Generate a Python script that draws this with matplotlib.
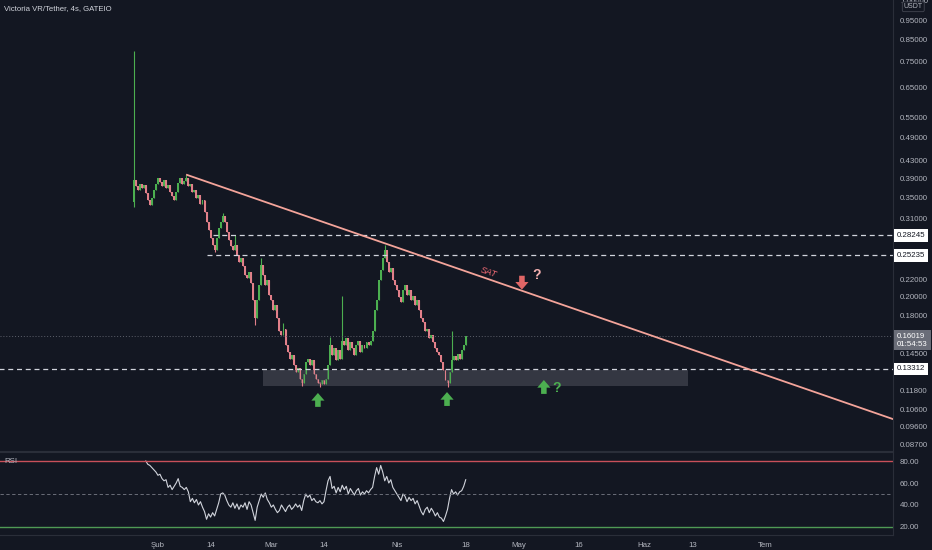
#Victoria VR/Tether 4s chart, dark TradingView-like style with RSI pane
import matplotlib
matplotlib.use('Agg')
import matplotlib.pyplot as plt
import matplotlib.dates as mdates
from matplotlib.ticker import FixedLocator, NullLocator
from datetime import datetime, timedelta

plt.rcParams['font.family'] = ['Liberation Sans', 'DejaVu Sans']

#price data (12h steps), open = previous close
first_open = 0.340
closes = [0.386, 0.373, 0.365, 0.377, 0.369, 0.375, 0.359, 0.345, 0.335, 0.348,
          0.365, 0.377, 0.390, 0.382, 0.373, 0.386, 0.369, 0.375, 0.361, 0.352,
          0.345, 0.361, 0.379, 0.390, 0.377, 0.384, 0.390, 0.373, 0.377, 0.361,
          0.365, 0.348, 0.354, 0.337, 0.345, 0.322, 0.304, 0.291, 0.278, 0.267,
          0.260, 0.278, 0.294, 0.304, 0.315, 0.304, 0.288, 0.275, 0.266, 0.260,
          0.267, 0.253, 0.243, 0.249, 0.238, 0.226, 0.222, 0.230, 0.216, 0.196,
          0.177, 0.196, 0.213, 0.239, 0.226, 0.213, 0.220, 0.202, 0.196, 0.185,
          0.191, 0.177, 0.165, 0.161, 0.167, 0.152, 0.146, 0.141, 0.144, 0.136,
          0.131, 0.134, 0.126, 0.123, 0.129, 0.138, 0.141, 0.136, 0.140, 0.129,
          0.126, 0.123, 0.122, 0.125, 0.122, 0.126, 0.136, 0.152, 0.144, 0.150,
          0.140, 0.148, 0.141, 0.156, 0.152, 0.158, 0.148, 0.155, 0.150, 0.144,
          0.152, 0.156, 0.146, 0.152, 0.150, 0.155, 0.152, 0.156, 0.165, 0.185,
          0.196, 0.220, 0.232, 0.249, 0.260, 0.243, 0.230, 0.235, 0.220, 0.213,
          0.208, 0.199, 0.194, 0.208, 0.213, 0.202, 0.208, 0.196, 0.201, 0.191,
          0.196, 0.185, 0.177, 0.173, 0.165, 0.167, 0.158, 0.161, 0.155, 0.150,
          0.146, 0.144, 0.138, 0.132, 0.125, 0.123, 0.131, 0.140, 0.143, 0.140,
          0.145, 0.141, 0.148, 0.152, 0.16019]
#wicks that stick out of the bodies
high_spikes = {0: 0.798, 26: 0.397, 44: 0.320, 50: 0.283, 63: 0.249, 74: 0.172,
               97: 0.159, 103: 0.201, 124: 0.267, 157: 0.165}
low_spikes = {0: 0.331, 40: 0.257, 60: 0.170, 83: 0.121, 92: 0.120, 155: 0.120}

#RSI values, starting with candle 6
rsi_start = 6
rsi = [80, 77, 76, 74, 72, 70, 67, 68, 64, 62, 63, 56, 58, 54, 57, 60, 64, 57, 56, 54,
       56, 52, 43, 46, 42, 45, 40, 43, 38, 34, 27, 32, 29, 33, 30, 36, 42, 50, 51, 49,
       44, 40, 38, 42, 37, 41, 36, 40, 38, 42, 36, 43, 40, 33, 26, 38, 44, 50, 47, 51,
       45, 42, 38, 40, 36, 33, 35, 40, 37, 34, 38, 40, 36, 38, 41, 38, 40, 35, 44, 50,
       47, 49, 44, 46, 43, 42, 44, 41, 43, 53, 62, 66, 55, 57, 51, 56, 52, 58, 54, 57,
       50, 55, 52, 49, 53, 55, 49, 52, 50, 53, 51, 54, 56, 66, 74, 68, 76, 70, 62, 66,
       60, 63, 56, 53, 50, 47, 44, 50, 48, 43, 47, 44, 46, 41, 44, 39, 34, 31, 36, 38,
       33, 37, 34, 30, 33, 29, 28, 25, 30, 36, 46, 54, 50, 52, 49, 52, 53, 57, 63]

#drawings on the chart
levels = [0.28245, 0.25235, 0.13312]
level_starts = [datetime(2022, 2, 14, 14), datetime(2022, 2, 13, 2), datetime(2021, 12, 20)]
trend_dates = [datetime(2022, 2, 8, 4), datetime(2022, 8, 1, 12)]
trend_prices = [0.397, 0.1003]
last_price = 0.16019

price_ticks = [1.06, 0.95, 0.85, 0.75, 0.65, 0.55, 0.49, 0.43, 0.39, 0.35, 0.31,
               0.22, 0.20, 0.18, 0.145, 0.118, 0.106, 0.096, 0.087]
x_tick_dates = [datetime(2022, 2, 1), datetime(2022, 2, 14), datetime(2022, 3, 1),
                datetime(2022, 3, 14), datetime(2022, 4, 1), datetime(2022, 4, 18),
                datetime(2022, 5, 1), datetime(2022, 5, 16), datetime(2022, 6, 1),
                datetime(2022, 6, 13), datetime(2022, 7, 1)]
x_tick_labels = ['Şub', '14', 'Mar', '14', 'Nis', '18', 'May', '16', 'Haz', '13', 'Tem']

bg = '#131722'
grid_col = '#2a2e39'
txt_col = '#b2b5be'
up_col = '#4caf50'
down_col = '#e2808a'
fs = 5.7

start = datetime(2022, 1, 26)
dates = [start + timedelta(hours=12 * i) for i in range(len(closes))]
opens = [first_open] + closes[:-1]
highs = [high_spikes.get(i, max(o, c)) for i, (o, c) in enumerate(zip(opens, closes))]
lows = [low_spikes.get(i, min(o, c)) for i, (o, c) in enumerate(zip(opens, closes))]
cols = [up_col if c >= o else down_col for o, c in zip(opens, closes)]

fig = plt.figure(figsize=(9.32, 5.5), dpi=100, facecolor=bg)
ax = fig.add_axes([0, 0.18, 893 / 932, 0.82], facecolor=bg)
ax2 = fig.add_axes([0, 15 / 550, 893 / 932, 83 / 550], facecolor=bg, sharex=ax)

feb1 = mdates.date2num(datetime(2022, 2, 1))
ax.set_xlim(feb1 - 39.0, feb1 + 181.5)
ax.set_yscale('log')
ax.set_ylim(0.0838, 1.0633)

#candles
ax.vlines(dates, lows, highs, colors=cols, linewidth=0.8)
ax.bar(dates, [max(abs(c - o), 0.0015) for o, c in zip(opens, closes)],
       bottom=[min(o, c) for o, c in zip(opens, closes)], width=0.48, color=cols,
       linewidth=0)

#last price dotted line
ax.axhline(last_price, color='#5d606b', linestyle=(0, (1, 2)), linewidth=0.7)

#horizontal levels
for lvl, st in zip(levels, level_starts):
    ax.hlines(lvl, mdates.date2num(st), feb1 + 181.5, colors='#d1d4dc',
              linestyles=(0, (4, 3)), linewidth=0.9)

#support zone
zone_x0 = mdates.date2num(datetime(2022, 2, 26, 22))
zone_x1 = mdates.date2num(datetime(2022, 6, 11, 21))
ax.fill_between([zone_x0, zone_x1], 0.1208, 0.1325, color='#434651', alpha=0.7, linewidth=0)

#trend line
ax.plot(trend_dates, trend_prices, color='#f4a49a', linewidth=1.3)
ax.text(datetime(2022, 4, 23, 17), 0.2297, 'SAT', color='#f06a74', fontsize=6.5,
        style='italic', rotation=-19, ha='center', va='center')

#arrows and question marks
def arrow(d, tip, color, up=True):
    ax.annotate('', xy=(d, tip), xytext=(0, -10 if up else 10), textcoords='offset points',
                arrowprops=dict(arrowstyle='simple,head_length=0.55,head_width=0.95,tail_width=0.4',
                                color=color, lw=0, shrinkA=0, shrinkB=0))

arrow(datetime(2022, 3, 12, 12), 0.1162, up_col)
arrow(datetime(2022, 4, 13, 9), 0.1168, up_col)
arrow(datetime(2022, 5, 7, 7), 0.1250, up_col)
arrow(datetime(2022, 5, 1, 21), 0.208, '#e06666', up=False)
ax.text(datetime(2022, 5, 10, 12), 0.1195, '?', color=up_col, fontsize=10,
        fontweight='bold', ha='center', va='center')
ax.text(datetime(2022, 5, 5, 14), 0.226, '?', color='#f4b0b0', fontsize=10,
        fontweight='bold', ha='center', va='center')

#title
ax.text(0.005, 0.981, 'Victoria VR/Tether, 4s, GATEIO', transform=ax.transAxes,
        color='#d1d4dc', fontsize=5.6, ha='left', va='center')

#price axis
ax.yaxis.tick_right()
ax.yaxis.set_major_locator(FixedLocator(price_ticks))
ax.yaxis.set_minor_locator(NullLocator())
ax.set_yticklabels(['%.5f' % p for p in price_ticks])
ax.tick_params(axis='y', colors=txt_col, labelsize=fs, length=0, pad=5)
ax.tick_params(axis='x', bottom=False, labelbottom=False)
for s in ['left', 'top']:
    ax.spines[s].set_visible(False)
ax.spines['right'].set_color(grid_col)
ax.spines['bottom'].set_color(grid_col)

#labels on the price axis
for lvl in levels:
    ax.text(1.0045, lvl, '%.5f' % lvl, transform=ax.get_yaxis_transform(), fontsize=fs,
            color=bg, ha='left', va='center', clip_on=False,
            bbox=dict(boxstyle='square,pad=0.35', fc='white', ec='none'))
ax.text(1.0045, 0.1565, '%.5f\n01:54:53' % last_price, transform=ax.get_yaxis_transform(),
        fontsize=fs, color='white', ha='left', va='center', clip_on=False, linespacing=1.2,
        bbox=dict(boxstyle='square,pad=0.35', fc='#6a6d78', ec='none'))
ax.text(1.012, 0.985, 'USDT', transform=ax.transAxes, fontsize=5, color=txt_col,
        ha='left', va='center', clip_on=False,
        bbox=dict(boxstyle='round,pad=0.2', fc=bg, ec='#434651', lw=0.6))

#RSI pane
ax2.plot(dates[rsi_start:], rsi, color='#d1d4dc', linewidth=0.8)
ax2.axhline(80, color='#c9505a', linewidth=1.0)
ax2.axhline(20, color='#4f9a55', linewidth=1.0)
ax2.axhline(50, color='#787b86', linestyle=(0, (4, 3)), linewidth=0.6)
ax2.set_ylim(12.7, 88.2)
ax2.yaxis.tick_right()
ax2.set_yticks([80, 60, 40, 20])
ax2.set_yticklabels(['80.00', '60.00', '40.00', '20.00'])
ax2.tick_params(axis='y', colors=txt_col, labelsize=fs, length=0, pad=5)
ax2.set_xticks([mdates.date2num(d) for d in x_tick_dates])
ax2.set_xticklabels(x_tick_labels)
ax2.tick_params(axis='x', colors=txt_col, labelsize=fs, length=0, pad=5)
ax2.spines['left'].set_visible(False)
for s in ['top', 'right', 'bottom']:
    ax2.spines[s].set_color(grid_col)
ax2.text(0.005, 0.88, 'RSI', transform=ax2.transAxes, color=txt_col, fontsize=fs,
         ha='left', va='center')

plt.savefig('out.png', dpi=100, facecolor=bg)
